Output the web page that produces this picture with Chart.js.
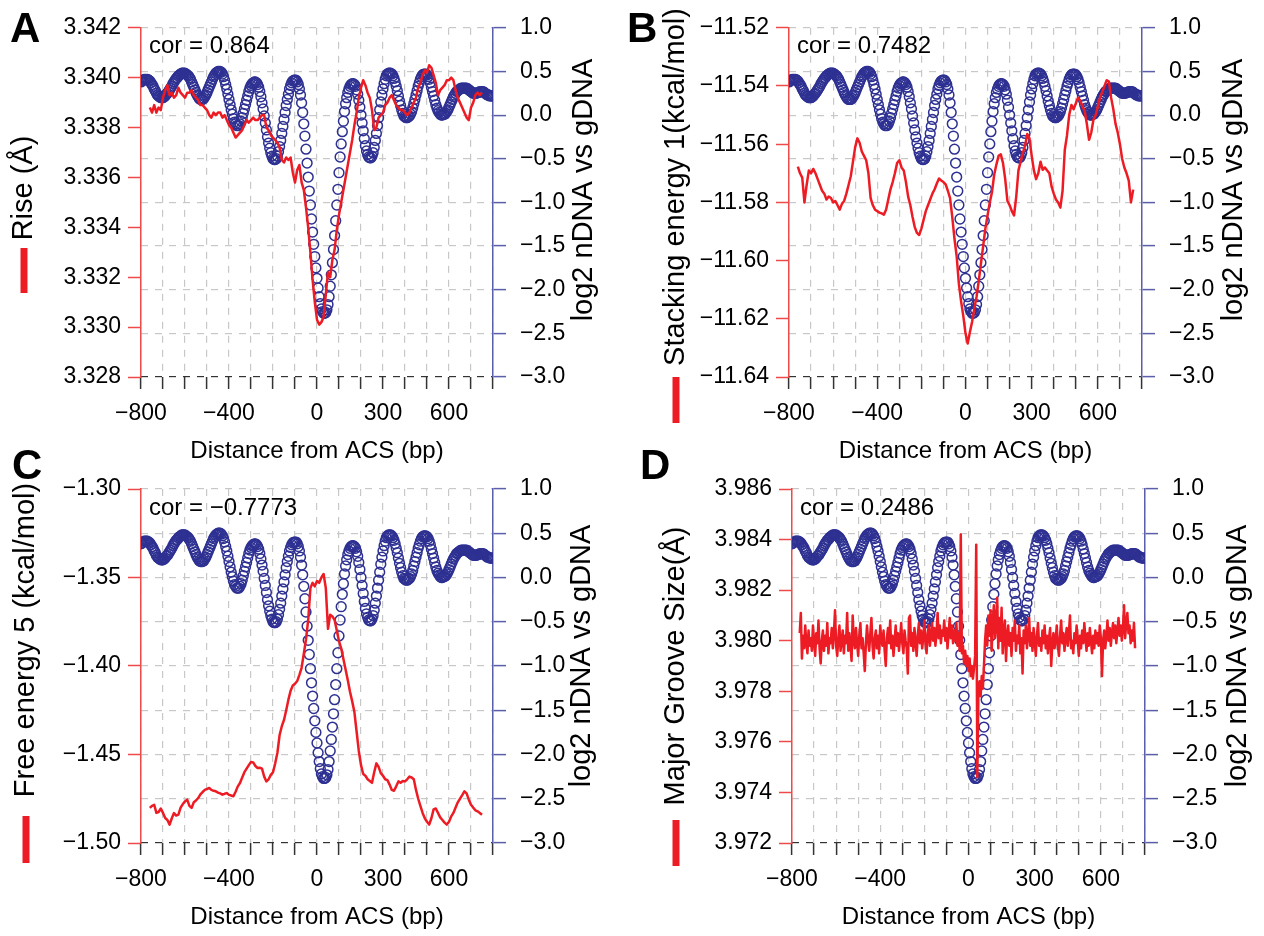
<!DOCTYPE html>
<html>
<head>
<meta charset="utf-8">
<title>DNA shape features around ACS</title>
<script src="https://cdn.jsdelivr.net/npm/chart.js@4.4.1/dist/chart.umd.min.js"></script>
<style>
  html, body { margin: 0; padding: 0; background: #fff; }
  #wrap { position: relative; width: 1264px; height: 936px; }
  #wrap canvas { position: absolute; left: 0; top: 0; }
</style>
</head>
<body>
<div id="wrap">
  <canvas id="panelA" width="1264" height="936"></canvas>
  <canvas id="panelB" width="1264" height="936"></canvas>
  <canvas id="panelC" width="1264" height="936"></canvas>
  <canvas id="panelD" width="1264" height="936"></canvas>
</div>
<script>
// ---- data ----
// x axis ticks (bp) and the ones that carry a label
const distTicks = [-800, -700, -600, -500, -400, -300, -200, -100, 0, 100, 200, 300, 400, 500, 600, 700, 800];
const distLabels = [-800, -400, 0, 300, 600];

// right axis (same in all panels)
const log2Ticks = [-3.0, -2.5, -2.0, -1.5, -1.0, -0.5, 0.0, 0.5, 1.0];

// left axis ticks per panel
const riseTicks = [3.328, 3.330, 3.332, 3.334, 3.336, 3.338, 3.340, 3.342];
const stackTicks = [-11.64, -11.62, -11.60, -11.58, -11.56, -11.54, -11.52];
const freeTicks = [-1.50, -1.45, -1.40, -1.35, -1.30];
const grooveTicks = [3.972, 3.974, 3.976, 3.978, 3.980, 3.982, 3.984, 3.986];

const corLabels = ["cor = 0.864", "cor = 0.7482", "cor = \u22120.7773", "cor = 0.2486"];

// log2 nDNA vs gDNA, every 5 bp from -800 to 800
const log2Ratio = [
  0.38, 0.39, 0.40, 0.41, 0.41, 0.41, 0.41, 0.40, 0.39, 0.37,
  0.35, 0.33, 0.30, 0.28, 0.25, 0.23, 0.22, 0.21, 0.20, 0.20,
  0.20, 0.21, 0.22, 0.24, 0.25, 0.27, 0.29, 0.31, 0.33, 0.36,
  0.38, 0.40, 0.42, 0.43, 0.45, 0.46, 0.47, 0.48, 0.48, 0.48,
  0.48, 0.47, 0.46, 0.45, 0.43, 0.41, 0.38, 0.35, 0.32, 0.29,
  0.26, 0.23, 0.21, 0.19, 0.18, 0.18, 0.18, 0.19, 0.21, 0.23,
  0.26, 0.29, 0.32, 0.35, 0.38, 0.41, 0.44, 0.46, 0.48, 0.49,
  0.50, 0.50, 0.50, 0.49, 0.47, 0.44, 0.40, 0.35, 0.30, 0.24,
  0.18, 0.12, 0.06, 0.01, -0.04, -0.08, -0.10, -0.12, -0.12, -0.12,
  -0.10, -0.07, -0.03, 0.02, 0.07, 0.12, 0.17, 0.22, 0.27, 0.31,
  0.34, 0.36, 0.37, 0.38, 0.38, 0.37, 0.35, 0.32, 0.27, 0.21,
  0.14, 0.07, -0.01, -0.09, -0.17, -0.25, -0.32, -0.38, -0.43, -0.47,
  -0.50, -0.51, -0.51, -0.50, -0.47, -0.42, -0.36, -0.29, -0.21, -0.13,
  -0.05, 0.03, 0.11, 0.18, 0.24, 0.30, 0.34, 0.37, 0.39, 0.40,
  0.40, 0.40, 0.38, 0.35, 0.30, 0.23, 0.14, 0.03, -0.10, -0.24,
  -0.39, -0.55, -0.71, -0.87, -1.03, -1.19, -1.34, -1.48, -1.62, -1.75,
  -1.87, -1.98, -2.08, -2.16, -2.22, -2.25, -2.27, -2.27, -2.26, -2.23,
  -2.17, -2.08, -1.96, -1.83, -1.69, -1.54, -1.38, -1.21, -1.03, -0.85,
  -0.66, -0.48, -0.33, -0.19, -0.07, 0.04, 0.13, 0.20, 0.26, 0.30,
  0.33, 0.35, 0.36, 0.36, 0.35, 0.33, 0.29, 0.24, 0.17, 0.09,
  0.00, -0.09, -0.18, -0.27, -0.35, -0.41, -0.45, -0.48, -0.49, -0.49,
  -0.47, -0.43, -0.37, -0.29, -0.21, -0.12, -0.03, 0.06, 0.15, 0.23,
  0.30, 0.36, 0.41, 0.45, 0.47, 0.48, 0.48, 0.48, 0.47, 0.45,
  0.42, 0.38, 0.33, 0.28, 0.22, 0.16, 0.11, 0.06, 0.02, -0.01,
  -0.02, -0.03, -0.03, -0.02, -0.01, 0.01, 0.04, 0.08, 0.13, 0.18,
  0.23, 0.28, 0.33, 0.37, 0.41, 0.44, 0.46, 0.47, 0.47, 0.47,
  0.46, 0.44, 0.41, 0.37, 0.32, 0.27, 0.22, 0.17, 0.12, 0.08,
  0.05, 0.03, 0.01, 0.00, 0.00, 0.01, 0.01, 0.02, 0.04, 0.06,
  0.09, 0.12, 0.15, 0.18, 0.21, 0.23, 0.25, 0.27, 0.28, 0.29,
  0.30, 0.31, 0.31, 0.31, 0.31, 0.31, 0.31, 0.30, 0.29, 0.28,
  0.27, 0.26, 0.25, 0.25, 0.25, 0.25, 0.26, 0.26, 0.27, 0.27,
  0.27, 0.27, 0.26, 0.25, 0.24, 0.23, 0.23, 0.22, 0.22, 0.22,
  0.22
];

// Rise (A), every 10 bp from -760 to 750
const rise = [
  3.3388, 3.3386, 3.3389, 3.3386, 3.3388, 3.3387, 3.3392, 3.3395, 3.3397, 3.3393,
  3.3394, 3.3392, 3.3393, 3.3396, 3.3394, 3.3393, 3.3392, 3.3394, 3.3394, 3.3395,
  3.3393, 3.3392, 3.3391, 3.3389, 3.3389, 3.3388, 3.3387, 3.3385, 3.3384, 3.3386,
  3.3385, 3.3386, 3.3386, 3.3384, 3.3385, 3.3383, 3.3381, 3.3380, 3.3378, 3.3376,
  3.3377, 3.3378, 3.3379, 3.3381, 3.3383, 3.3382, 3.3383, 3.3384, 3.3383, 3.3383,
  3.3384, 3.3385, 3.3385, 3.3380, 3.3379, 3.3377, 3.3376, 3.3375, 3.3374, 3.3372,
  3.3367, 3.3366, 3.3368, 3.3367, 3.3368, 3.3362, 3.3358, 3.3363, 3.3365, 3.3358,
  3.3355, 3.3348, 3.3340, 3.3330, 3.3319, 3.3310, 3.3303, 3.3301, 3.3302, 3.3304,
  3.3313, 3.3322, 3.3320, 3.3327, 3.3331, 3.3339, 3.3345, 3.3350, 3.3355, 3.3360,
  3.3365, 3.3370, 3.3375, 3.3381, 3.3386, 3.3392, 3.3396, 3.3399, 3.3397, 3.3394,
  3.3392, 3.3387, 3.3379, 3.3380, 3.3384, 3.3385, 3.3386, 3.3389, 3.3390, 3.3392,
  3.3393, 3.3391, 3.3389, 3.3388, 3.3387, 3.3387, 3.3386, 3.3385, 3.3386, 3.3388,
  3.3390, 3.3392, 3.3396, 3.3398, 3.3401, 3.3403, 3.3402, 3.3405, 3.3404, 3.3401,
  3.3398, 3.3393, 3.3395, 3.3396, 3.3397, 3.3399, 3.3399, 3.3400, 3.3399, 3.3395,
  3.3392, 3.3390, 3.3388, 3.3386, 3.3384, 3.3383, 3.3388, 3.3390, 3.3393, 3.3394,
  3.3393, 3.3394
];

// Stacking energy 1 (kcal/mol), every 10 bp from -760 to 760
const stacking = [
  -11.5677, -11.5700, -11.5715, -11.5800, -11.5740, -11.5690, -11.5700, -11.5685, -11.5700, -11.5720,
  -11.5740, -11.5760, -11.5770, -11.5790, -11.5780, -11.5785, -11.5800, -11.5795, -11.5810, -11.5825,
  -11.5805, -11.5795, -11.5770, -11.5740, -11.5710, -11.5660, -11.5610, -11.5580, -11.5595, -11.5625,
  -11.5640, -11.5655, -11.5700, -11.5785, -11.5810, -11.5825, -11.5830, -11.5835, -11.5838, -11.5842,
  -11.5825, -11.5790, -11.5755, -11.5730, -11.5700, -11.5665, -11.5655, -11.5680, -11.5690, -11.5730,
  -11.5780, -11.5810, -11.5850, -11.5885, -11.5905, -11.5912, -11.5890, -11.5860, -11.5830, -11.5810,
  -11.5790, -11.5770, -11.5755, -11.5735, -11.5718, -11.5725, -11.5730, -11.5738, -11.5760, -11.5785,
  -11.5850, -11.5925, -11.5985, -11.6080, -11.6140, -11.6190, -11.6250, -11.6285, -11.6245, -11.6210,
  -11.6165, -11.6125, -11.6070, -11.6010, -11.5950, -11.5890, -11.5845, -11.5800, -11.5765, -11.5705,
  -11.5670, -11.5640, -11.5635, -11.5665, -11.5720, -11.5795, -11.5810, -11.5830, -11.5845, -11.5780,
  -11.5690, -11.5660, -11.5630, -11.5605, -11.5565, -11.5580, -11.5640, -11.5690, -11.5720, -11.5700,
  -11.5660, -11.5688, -11.5680, -11.5690, -11.5700, -11.5745, -11.5770, -11.5790, -11.5800, -11.5818,
  -11.5760, -11.5620, -11.5570, -11.5500, -11.5465, -11.5480, -11.5460, -11.5440, -11.5450, -11.5470,
  -11.5485, -11.5530, -11.5585, -11.5560, -11.5515, -11.5500, -11.5470, -11.5440, -11.5420, -11.5400,
  -11.5380, -11.5385, -11.5440, -11.5480, -11.5530, -11.5560, -11.5600, -11.5650, -11.5680, -11.5700,
  -11.5725, -11.5800, -11.5756
];

// Free energy 5 (kcal/mol), every 10 bp from -760 to 750
const freeEnergy = [
  -1.4802, -1.4790, -1.4784, -1.4830, -1.4825, -1.4805, -1.4830, -1.4859, -1.4870, -1.4896,
  -1.4860, -1.4831, -1.4845, -1.4840, -1.4800, -1.4780, -1.4765, -1.4755, -1.4790, -1.4802,
  -1.4770, -1.4760, -1.4746, -1.4725, -1.4712, -1.4700, -1.4695, -1.4689, -1.4700, -1.4705,
  -1.4708, -1.4715, -1.4720, -1.4727, -1.4722, -1.4718, -1.4728, -1.4732, -1.4736, -1.4710,
  -1.4680, -1.4661, -1.4630, -1.4600, -1.4580, -1.4560, -1.4542, -1.4545, -1.4565, -1.4576,
  -1.4575, -1.4580, -1.4625, -1.4652, -1.4640, -1.4615, -1.4600, -1.4550, -1.4490, -1.4390,
  -1.4340, -1.4305, -1.4250, -1.4190, -1.4140, -1.4110, -1.4100, -1.4085, -1.4050, -1.4010,
  -1.3930, -1.3850, -1.3740, -1.3560, -1.3530, -1.3550, -1.3520, -1.3530, -1.3500, -1.3480,
  -1.3560, -1.3790, -1.3710, -1.3720, -1.3740, -1.3800, -1.3860, -1.3900, -1.3960, -1.4020,
  -1.4080, -1.4145, -1.4200, -1.4260, -1.4370, -1.4480, -1.4560, -1.4610, -1.4620, -1.4640,
  -1.4650, -1.4660, -1.4600, -1.4550, -1.4570, -1.4605, -1.4620, -1.4640, -1.4645, -1.4670,
  -1.4700, -1.4705, -1.4680, -1.4652, -1.4660, -1.4650, -1.4652, -1.4640, -1.4625, -1.4630,
  -1.4640, -1.4700, -1.4750, -1.4790, -1.4830, -1.4860, -1.4880, -1.4896, -1.4860, -1.4810,
  -1.4805, -1.4830, -1.4855, -1.4870, -1.4885, -1.4896, -1.4880, -1.4850, -1.4830, -1.4800,
  -1.4770, -1.4750, -1.4730, -1.4708, -1.4720, -1.4755, -1.4784, -1.4800, -1.4815, -1.4821,
  -1.4830, -1.4840
];

// Major groove size (A), every 5 bp from -765 to 755
const groove = [
  3.9803, 3.9811, 3.9793, 3.9802, 3.9797, 3.9806, 3.9799, 3.9795, 3.9804, 3.9798,
  3.9801, 3.9796, 3.9806, 3.9800, 3.9794, 3.9803, 3.9799, 3.9808, 3.9797, 3.9791,
  3.9800, 3.9804, 3.9796, 3.9802, 3.9798, 3.9807, 3.9795, 3.9801, 3.9799, 3.9805,
  3.9797, 3.9803, 3.9812, 3.9798, 3.9794, 3.9801, 3.9806, 3.9796, 3.9800, 3.9804,
  3.9795, 3.9802, 3.9799, 3.9811, 3.9796, 3.9803, 3.9798, 3.9792, 3.9810, 3.9800,
  3.9797, 3.9805, 3.9799, 3.9794, 3.9802, 3.9807, 3.9797, 3.9801, 3.9795, 3.9788,
  3.9799, 3.9806, 3.9800, 3.9796, 3.9803, 3.9809, 3.9798, 3.9793, 3.9801, 3.9804,
  3.9797, 3.9802, 3.9795, 3.9806, 3.9800, 3.9798, 3.9804, 3.9796, 3.9790, 3.9801,
  3.9805, 3.9799, 3.9808, 3.9797, 3.9802, 3.9794, 3.9800, 3.9806, 3.9798, 3.9803,
  3.9796, 3.9801, 3.9807, 3.9799, 3.9795, 3.9804, 3.9800, 3.9797, 3.9787, 3.9809,
  3.9810, 3.9798, 3.9803, 3.9796, 3.9805, 3.9800, 3.9794, 3.9802, 3.9807, 3.9799,
  3.9804, 3.9797, 3.9801, 3.9808, 3.9799, 3.9795, 3.9803, 3.9806, 3.9798, 3.9802,
  3.9807, 3.9800, 3.9805, 3.9798, 3.9803, 3.9811, 3.9801, 3.9806, 3.9799, 3.9804,
  3.9802, 3.9808, 3.9800, 3.9805, 3.9797, 3.9803, 3.9809, 3.9801, 3.9806, 3.9799,
  3.9804, 3.9800, 3.9807, 3.9798, 3.9803, 3.9796, 3.9842, 3.9795, 3.9798, 3.9791,
  3.9796, 3.9790, 3.9794, 3.9788, 3.9793, 3.9786, 3.9790, 3.9785, 3.9789, 3.9794,
  3.9838, 3.9746, 3.9780, 3.9784, 3.9778, 3.9786, 3.9781, 3.9790, 3.9800, 3.9806,
  3.9798, 3.9810, 3.9802, 3.9812, 3.9796, 3.9808, 3.9814, 3.9801, 3.9806, 3.9817,
  3.9797, 3.9809, 3.9800, 3.9813, 3.9795, 3.9804, 3.9808, 3.9792, 3.9802, 3.9806,
  3.9798, 3.9803, 3.9794, 3.9805, 3.9800, 3.9808, 3.9796, 3.9802, 3.9799, 3.9806,
  3.9795, 3.9801, 3.9787, 3.9804, 3.9799, 3.9806, 3.9797, 3.9802, 3.9809, 3.9798,
  3.9803, 3.9796, 3.9805, 3.9800, 3.9794, 3.9802, 3.9807, 3.9798, 3.9801, 3.9796,
  3.9804, 3.9799, 3.9806, 3.9797, 3.9802, 3.9795, 3.9801, 3.9805, 3.9790, 3.9799,
  3.9803, 3.9797, 3.9800, 3.9806, 3.9798, 3.9794, 3.9802, 3.9808, 3.9799, 3.9803,
  3.9796, 3.9801, 3.9805, 3.9798, 3.9803, 3.9810, 3.9797, 3.9800, 3.9795, 3.9803,
  3.9799, 3.9806, 3.9800, 3.9794, 3.9802, 3.9797, 3.9804, 3.9799, 3.9807, 3.9801,
  3.9796, 3.9803, 3.9798, 3.9805, 3.9800, 3.9795, 3.9802, 3.9797, 3.9804, 3.9799,
  3.9803, 3.9798, 3.9806, 3.9801, 3.9786, 3.9800, 3.9804, 3.9797, 3.9802, 3.9808,
  3.9800, 3.9805, 3.9798, 3.9803, 3.9807, 3.9801, 3.9806, 3.9799, 3.9804, 3.9809,
  3.9802, 3.9806, 3.9800, 3.9805, 3.9814, 3.9801, 3.9807, 3.9811, 3.9803, 3.9806,
  3.9799, 3.9804, 3.9800, 3.9807, 3.9797
];

// ---- helpers ----
function range(start, step, n) {
  return Array.from({ length: n }, (_, i) => start + i * step);
}
function pts(xs, ys) {
  return ys.map((y, i) => ({ x: xs[i], y: y }));
}
function fmt(v, d) {
  return Number(v).toFixed(d).replace('-', '\u2212');
}

const distance = range(-800, 5, log2Ratio.length);
const riseX = range(-760, 10, rise.length);
const stackX = range(-760, 10, stacking.length);
const freeX = range(-760, 10, freeEnergy.length);
const grooveX = range(-765, 5, groove.length);

const RED = '#ed1c24';
const BLUE = '#2e3192';
const AXIS_RED = '#ef4a4a';
const AXIS_BLUE = '#5b5eaa';
const GRID = '#c8c8c8';
const FONT = '"Liberation Sans", Arial, Helvetica, sans-serif';

Chart.defaults.font.family = FONT;

// letters, correlation text, side titles with the red key bar
const panelDecor = {
  id: 'panelDecor',
  afterDraw(chart, args, o) {
    const ctx = chart.ctx;
    const area = chart.chartArea;
    ctx.save();
    ctx.fillStyle = '#000';
    ctx.font = 'bold 42px ' + FONT;
    ctx.textAlign = 'left';
    ctx.textBaseline = 'alphabetic';
    ctx.fillText(o.letter, o.letterX, o.letterY);

    ctx.font = '24px ' + FONT;
    ctx.textBaseline = 'middle';
    ctx.fillText(o.cor, area.left + 8, area.top + 19);

    ctx.font = '29px ' + FONT;
    ctx.textAlign = 'center';
    ctx.save();
    ctx.translate(o.leftX, o.leftY);
    ctx.rotate(-Math.PI / 2);
    ctx.fillText(o.leftTitle, 0, 0);
    ctx.restore();

    ctx.save();
    ctx.translate(o.rightX, o.rightY);
    ctx.rotate(-Math.PI / 2);
    ctx.fillText('log2 nDNA vs gDNA', 0, 0);
    ctx.restore();

    ctx.fillStyle = RED;
    ctx.fillRect(o.leftX - 3.5, o.barTop, 7, o.barBottom - o.barTop);
    ctx.restore();
  }
};

function makePanel(id, p) {
  new Chart(document.getElementById(id), {
    type: 'scatter',
    data: {
      datasets: [
        {
          label: p.decor.leftTitle,
          data: pts(p.redX, p.redY),
          yAxisID: 'y',
          showLine: true,
          borderColor: RED,
          borderWidth: 2.5,
          borderJoinStyle: 'round',
          pointRadius: 0
        },
        {
          label: 'log2 nDNA vs gDNA',
          data: pts(distance, log2Ratio),
          yAxisID: 'y1',
          showLine: false,
          pointStyle: 'circle',
          pointRadius: 4.9,
          pointBorderWidth: 1.5,
          borderColor: BLUE,
          backgroundColor: 'rgba(0,0,0,0)'
        }
      ]
    },
    options: {
      responsive: false,
      animation: false,
      devicePixelRatio: 1,
      events: [],
      layout: { padding: p.pad },
      plugins: {
        legend: { display: false },
        tooltip: { enabled: false },
        panelDecor: p.decor
      },
      scales: {
        x: {
          type: 'linear',
          min: -800,
          max: 800,
          afterBuildTicks: a => { a.ticks = distTicks.map(v => ({ value: v })); },
          afterFit: s => { s.height = 91; },
          ticks: {
            autoSkip: false,
            maxRotation: 0,
            padding: 11,
            color: '#000',
            font: { size: 23 },
            callback: v => distLabels.includes(v) ? fmt(v, 0) : ''
          },
          grid: { color: GRID, lineWidth: 1.2, tickLength: 12, tickColor: '#333', tickWidth: 1.5 },
          border: { display: false, dash: [7, 7] },
          title: {
            display: true,
            text: 'Distance from ACS (bp)',
            color: '#000',
            font: { size: 24 },
            padding: { top: 0, bottom: 2 }
          }
        },
        y: {
          type: 'linear',
          position: 'left',
          min: p.leftTicks[0],
          max: p.leftTicks[p.leftTicks.length - 1],
          afterBuildTicks: a => { a.ticks = p.leftTicks.map(v => ({ value: v })); },
          afterFit: s => { s.width = 141; },
          ticks: { padding: 7, color: '#000', font: { size: 23 }, callback: v => fmt(v, p.dec) },
          grid: { drawOnChartArea: false, tickLength: 13, tickColor: AXIS_RED, tickWidth: 1.5 },
          border: { color: AXIS_RED, width: 1.5 }
        },
        y1: {
          type: 'linear',
          position: 'right',
          min: -3,
          max: 1,
          afterBuildTicks: a => { a.ticks = log2Ticks.map(v => ({ value: v })); },
          afterFit: s => { s.width = p.rightW; },
          ticks: { padding: 14, color: '#000', font: { size: 23 }, callback: v => fmt(v, 1) },
          grid: {
            drawOnChartArea: true,
            color: c => (c.tick && c.tick.value === -3) ? '#333' : GRID,
            lineWidth: 1.2,
            tickLength: 13,
            tickColor: AXIS_BLUE,
            tickWidth: 1.5
          },
          border: { color: AXIS_BLUE, width: 1.5, dash: [7, 7] }
        }
      }
    },
    plugins: [panelDecor]
  });
}

makePanel('panelA', {
  redX: riseX, redY: rise, leftTicks: riseTicks, dec: 3, rightW: 123,
  pad: { left: 0, right: 648, top: 23, bottom: 468 },
  decor: { letter: 'A', letterX: 10, letterY: 42, cor: corLabels[0],
    leftTitle: 'Rise (\u00c5)', leftX: 24, leftY: 188, barTop: 248, barBottom: 293,
    rightX: 584, rightY: 190 }
});

makePanel('panelB', {
  redX: stackX, redY: stacking, leftTicks: stackTicks, dec: 2, rightW: 122,
  pad: { left: 648, right: 0, top: 23, bottom: 468 },
  decor: { letter: 'B', letterX: 627, letterY: 42, cor: corLabels[1],
    leftTitle: 'Stacking energy 1(kcal/mol)', leftX: 676, leftY: 187, barTop: 377, barBottom: 423,
    rightX: 1234, rightY: 190 }
});

makePanel('panelC', {
  redX: freeX, redY: freeEnergy, leftTicks: freeTicks, dec: 2, rightW: 123,
  pad: { left: 0, right: 648, top: 489, bottom: 2 },
  decor: { letter: 'C', letterX: 12, letterY: 479, cor: corLabels[2],
    leftTitle: 'Free energy 5 (kcal/mol)', leftX: 26, leftY: 640, barTop: 816, barBottom: 863,
    rightX: 582, rightY: 656 }
});

makePanel('panelD', {
  redX: grooveX, redY: groove, leftTicks: grooveTicks, dec: 3, rightW: 119,
  pad: { left: 651, right: 0, top: 489, bottom: 2 },
  decor: { letter: 'D', letterX: 640, letterY: 479, cor: corLabels[3],
    leftTitle: 'Major Groove Size(\u00c5)', leftX: 676, leftY: 666, barTop: 820, barBottom: 866,
    rightX: 1238, rightY: 656 }
});
</script>
</body>
</html>
